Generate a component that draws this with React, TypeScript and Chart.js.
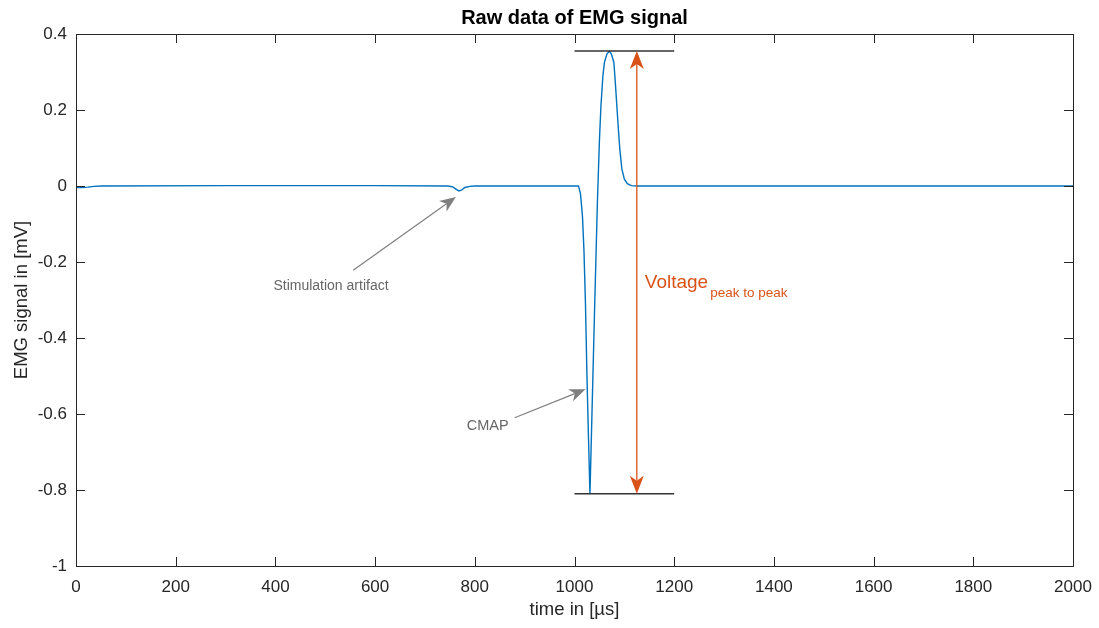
import React, { useEffect, useRef } from 'react';
import { Chart, registerables } from 'chart.js';

Chart.register(...registerables);

// EMG recording: time in microseconds and signal in millivolts
const timeUs = [
  0, 12, 24, 36, 50, 300, 600, 745, 755, 762, 768, 774, 780, 790, 800,
  1000, 1008, 1012, 1016, 1019, 1022, 1025, 1028, 1031, 1040, 1046, 1050,
  1053, 1057, 1060, 1065, 1070, 1074, 1079, 1082, 1085, 1088, 1091, 1095,
  1100, 1106, 1114, 1125, 1500, 2000,
];
const emgMv = [
  -0.004, -0.004, -0.003, -0.001, 0, 0.001, 0.001, 0, -0.002, -0.008, -0.013, -0.01, -0.004, -0.001, 0,
  0, 0, -0.02, -0.08, -0.17, -0.31, -0.5, -0.66, -0.81, -0.34, -0.04, 0.12,
  0.21, 0.29, 0.325, 0.347, 0.355, 0.347, 0.325, 0.27, 0.21, 0.15, 0.095, 0.045,
  0.018, 0.006, 0.001, 0, 0, 0,
];

const xTickValues = [0, 200, 400, 600, 800, 1000, 1200, 1400, 1600, 1800, 2000];
const xTickLabels = ['0', '200', '400', '600', '800', '1000', '1200', '1400', '1600', '1800', '2000'];
const yTickValues = [-1, -0.8, -0.6, -0.4, -0.2, 0, 0.2, 0.4];
const yTickLabels = ['-1', '-0.8', '-0.6', '-0.4', '-0.2', '0', '0.2', '0.4'];

const chartTitle = 'Raw data of EMG signal';
const xAxisTitle = 'time in [µs]';
const yAxisTitle = 'EMG signal in [mV]';

// annotation anchors, in data units (time µs, signal mV)
const markerLineSpan = [1000, 1200];
const peakArrowTime = 1125;
const voltageLabel = { text: 'Voltage', sub: 'peak to peak', x: 1141, y: -0.268 };
const stimLabel = { text: 'Stimulation artifact', x: 396, y: -0.274 };
const stimArrow = { from: [556, -0.222], to: [762, -0.029] };
const cmapLabel = { text: 'CMAP', x: 784, y: -0.642 };
const cmapArrow = { from: [880, -0.61], to: [1022, -0.535] };

const FONT = '"Liberation Sans", Arial, Helvetica, sans-serif';
const AXIS_COLOR = '#262626';
const LINE_COLOR = '#0072BD';
const ORANGE = '#D95319';
const GREY = '#7f7f7f';

type Pt = [number, number];

function drawArrowHead(ctx: CanvasRenderingContext2D, tip: Pt, from: Pt, len: number, halfW: number, color: string): Pt {
  const ang = Math.atan2(tip[1] - from[1], tip[0] - from[0]);
  const c = Math.cos(ang);
  const s = Math.sin(ang);
  const bx = tip[0] - len * c;
  const by = tip[1] - len * s;
  const notch: Pt = [tip[0] - len * 0.72 * c, tip[1] - len * 0.72 * s];
  ctx.beginPath();
  ctx.moveTo(tip[0], tip[1]);
  ctx.lineTo(bx - s * halfW, by + c * halfW);
  ctx.lineTo(notch[0], notch[1]);
  ctx.lineTo(bx + s * halfW, by - c * halfW);
  ctx.closePath();
  ctx.fillStyle = color;
  ctx.fill();
  return notch;
}

// axes box with inward ticks on all four sides, plus the title centred over the plot
const boxPlugin = {
  id: 'boxAndTicks',
  afterDatasetsDraw(chart: any) {
    const { ctx, chartArea, scales } = chart;
    const { left, right, top, bottom } = chartArea;
    const x = scales.x;
    const y = scales.y;
    const tick = 9;
    ctx.save();
    ctx.strokeStyle = AXIS_COLOR;
    ctx.lineWidth = 1;
    ctx.strokeRect(Math.round(left) + 0.5, Math.round(top) + 0.5, Math.round(right - left), Math.round(bottom - top));
    ctx.beginPath();
    xTickValues.forEach((v) => {
      const px = Math.round(x.getPixelForValue(v)) + 0.5;
      ctx.moveTo(px, bottom);
      ctx.lineTo(px, bottom - tick);
      ctx.moveTo(px, top);
      ctx.lineTo(px, top + tick);
    });
    yTickValues.forEach((v) => {
      const py = Math.round(y.getPixelForValue(v)) + 0.5;
      ctx.moveTo(left, py);
      ctx.lineTo(left + tick, py);
      ctx.moveTo(right, py);
      ctx.lineTo(right - tick, py);
    });
    ctx.stroke();

    ctx.fillStyle = '#000000';
    ctx.font = `bold 20px ${FONT}`;
    ctx.textAlign = 'center';
    ctx.textBaseline = 'middle';
    ctx.fillText(chartTitle, (left + right) / 2, top - 16);
    ctx.restore();
  },
};

const annotationPlugin = {
  id: 'emgAnnotations',
  afterDraw(chart: any) {
    const { ctx, scales } = chart;
    const x = scales.x;
    const y = scales.y;
    const P = (t: number, v: number): Pt => [x.getPixelForValue(t), y.getPixelForValue(v)];
    const peak = Math.max(...emgMv);
    const trough = Math.min(...emgMv);

    ctx.save();
    // horizontal markers at the peak and trough
    ctx.strokeStyle = '#333333';
    ctx.lineWidth = 1.5;
    [peak, trough].forEach((v) => {
      const a = P(markerLineSpan[0], v);
      const b = P(markerLineSpan[1], v);
      ctx.beginPath();
      ctx.moveTo(a[0], a[1]);
      ctx.lineTo(b[0], b[1]);
      ctx.stroke();
    });

    // peak-to-peak double arrow
    const top = P(peakArrowTime, peak);
    const bot = P(peakArrowTime, trough);
    const n1 = drawArrowHead(ctx, top, bot, 18, 7, ORANGE);
    const n2 = drawArrowHead(ctx, bot, top, 18, 7, ORANGE);
    ctx.strokeStyle = ORANGE;
    ctx.lineWidth = 1.3;
    ctx.beginPath();
    ctx.moveTo(n1[0], n1[1]);
    ctx.lineTo(n2[0], n2[1]);
    ctx.stroke();

    // grey text arrows
    [stimArrow, cmapArrow].forEach((arr) => {
      const from = P(arr.from[0], arr.from[1]);
      const to = P(arr.to[0], arr.to[1]);
      const notch = drawArrowHead(ctx, to, from, 16, 6.5, GREY);
      ctx.strokeStyle = GREY;
      ctx.lineWidth = 1.2;
      ctx.beginPath();
      ctx.moveTo(from[0], from[1]);
      ctx.lineTo(notch[0], notch[1]);
      ctx.stroke();
    });

    ctx.textBaseline = 'alphabetic';
    ctx.textAlign = 'left';
    ctx.fillStyle = '#666666';
    ctx.font = `14px ${FONT}`;
    const sp = P(stimLabel.x, stimLabel.y);
    ctx.fillText(stimLabel.text, sp[0], sp[1]);
    ctx.font = `14.5px ${FONT}`;
    const cp = P(cmapLabel.x, cmapLabel.y);
    ctx.fillText(cmapLabel.text, cp[0], cp[1]);

    ctx.fillStyle = ORANGE;
    ctx.font = `19px ${FONT}`;
    const vp = P(voltageLabel.x, voltageLabel.y);
    ctx.fillText(voltageLabel.text, vp[0], vp[1]);
    const w = ctx.measureText(voltageLabel.text).width;
    ctx.font = `13.5px ${FONT}`;
    ctx.fillText(voltageLabel.sub, vp[0] + w + 2, vp[1] + 9.5);
    ctx.restore();
  },
};

export default function App() {
  const canvasRef = useRef<HTMLCanvasElement | null>(null);

  useEffect(() => {
    const canvas = canvasRef.current;
    if (!canvas) return;
    const chart = new Chart(canvas, {
      type: 'line',
      data: {
        datasets: [
          {
            data: timeUs.map((t, i) => ({ x: t, y: emgMv[i] })),
            borderColor: LINE_COLOR,
            borderWidth: 1.4,
            pointRadius: 0,
            tension: 0,
            fill: false,
          },
        ],
      },
      options: {
        responsive: false,
        animation: false,
        devicePixelRatio: 1,
        layout: { padding: { left: 0, right: 26, top: 34, bottom: 0 } },
        plugins: {
          legend: { display: false },
          tooltip: { enabled: false },
          title: { display: false },
        },
        scales: {
          x: {
            type: 'linear',
            min: 0,
            max: 2000,
            afterBuildTicks: (s: any) => {
              s.ticks = xTickValues.map((v) => ({ value: v }));
            },
            afterFit: (s: any) => {
              s.height = 62;
              s.paddingLeft = 0;
              s.paddingRight = 0;
            },
            grid: { display: false, drawTicks: false },
            border: { display: false },
            ticks: {
              color: AXIS_COLOR,
              padding: 11,
              maxRotation: 0,
              autoSkip: false,
              font: { family: FONT, size: 17 },
              callback: (v: any) => xTickLabels[xTickValues.indexOf(Number(v))],
            },
            title: {
              display: true,
              text: xAxisTitle,
              color: AXIS_COLOR,
              font: { family: FONT, size: 18.5, lineHeight: 1.2 },
              padding: { top: 0, bottom: 7 },
            },
          },
          y: {
            type: 'linear',
            min: -1,
            max: 0.4,
            afterBuildTicks: (s: any) => {
              s.ticks = yTickValues.map((v) => ({ value: v }));
            },
            afterFit: (s: any) => {
              s.width = 76;
              s.paddingTop = 0;
              s.paddingBottom = 0;
            },
            grid: { display: false, drawTicks: false },
            border: { display: false },
            ticks: {
              color: AXIS_COLOR,
              padding: 9,
              autoSkip: false,
              font: { family: FONT, size: 17 },
              callback: (v: any) => yTickLabels[yTickValues.indexOf(Number(v))],
            },
            title: {
              display: true,
              text: yAxisTitle,
              color: AXIS_COLOR,
              font: { family: FONT, size: 18.5, lineHeight: 1.2 },
              padding: { top: 11, bottom: 0 },
            },
          },
        },
      },
      plugins: [boxPlugin, annotationPlugin],
    });
    return () => chart.destroy();
  }, []);

  return (
    <div style={{ position: 'absolute', left: 0, top: 0, width: 1099, height: 628, background: '#ffffff' }}>
      <canvas ref={canvasRef} width={1099} height={628} style={{ display: 'block' }} />
    </div>
  );
}
